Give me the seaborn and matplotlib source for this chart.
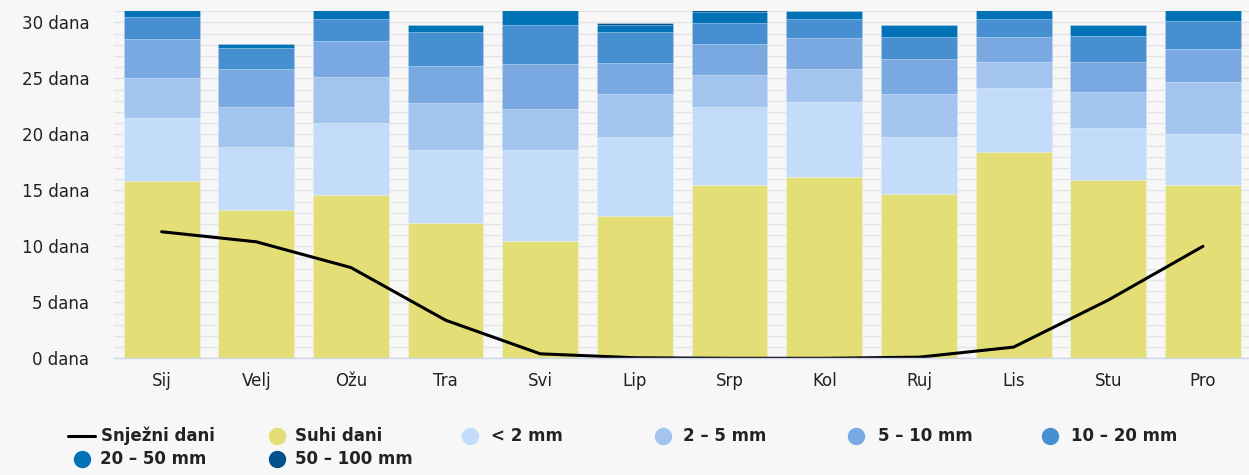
import numpy as np
import pandas as pd
import matplotlib
matplotlib.use("Agg")
import matplotlib.pyplot as plt
from matplotlib.lines import Line2D
import seaborn as sns

# Monthly climate: average days per precipitation class, plus snow days
months = ["Sij", "Velj", "Ožu", "Tra", "Svi", "Lip", "Srp", "Kol", "Ruj", "Lis", "Stu", "Pro"]
dry_days = [15.8, 13.2, 14.6, 12.1, 10.5, 12.7, 15.5, 16.2, 14.7, 18.4, 15.9, 15.5]
prec_lt2 = [5.7, 5.7, 6.4, 6.5, 8.1, 7.1, 6.9, 6.7, 5.1, 5.7, 4.7, 4.5]
prec_2_5 = [3.5, 3.5, 4.1, 4.2, 3.7, 3.8, 2.9, 2.9, 3.8, 2.4, 3.2, 4.7]
prec_5_10 = [3.5, 3.4, 3.2, 3.3, 4.0, 2.8, 2.8, 2.8, 3.1, 2.2, 2.7, 2.9]
prec_10_20 = [2.0, 1.9, 2.0, 3.0, 3.5, 2.7, 1.8, 1.7, 2.0, 1.6, 2.3, 2.5]
prec_20_50 = [0.6, 0.4, 0.8, 0.7, 1.3, 0.7, 1.0, 0.7, 1.1, 0.8, 1.0, 1.0]
prec_50_100 = [0.0, 0.0, 0.0, 0.0, 0.0, 0.1, 0.2, 0.0, 0.0, 0.0, 0.0, 0.0]
snow_days = [11.3, 10.4, 8.1, 3.4, 0.4, 0.05, 0.0, 0.0, 0.1, 1.0, 5.2, 10.0]

series_labels = ["Suhi dani", "< 2 mm", "2 – 5 mm", "5 – 10 mm", "10 – 20 mm",
                 "20 – 50 mm", "50 – 100 mm"]
series_colors = ["#e3df76", "#c3dcfa", "#a2c4ef", "#79a9e0", "#4690d2",
                 "#0072b5", "#00508c"]
snow_label = "Snježni dani"
y_unit = "dana"

stack = [dry_days, prec_lt2, prec_2_5, prec_5_10, prec_10_20, prec_20_50, prec_50_100]
cumulative = np.cumsum(np.array(stack), axis=0)

sns.set_theme(style="white")
plt.rcParams["font.family"] = ["DejaVu Sans"]

W, H = 1249, 475
fig = plt.figure(figsize=(W / 100, H / 100), dpi=100, facecolor="#f7f7f7")
ax = fig.add_axes([114.3 / W, 1 - 358.3 / H, 1136 / W, 347.2 / H])
ax.set_facecolor("#f7f7f7")

# Stacked columns: draw the tallest cumulative layer first, shorter ones on top
for i in range(len(stack) - 1, -1, -1):
    df = pd.DataFrame({"month": months, "value": cumulative[i]})
    sns.barplot(data=df, x="month", y="value", color=series_colors[i],
                saturation=1, width=0.8, ax=ax, zorder=2,
                edgecolor=(1, 1, 1, 0.45), linewidth=0.6)

# Snow days line
snow_df = pd.DataFrame({"pos": np.arange(len(months)), "snow": snow_days})
sns.lineplot(data=snow_df, x="pos", y="snow", color="black", linewidth=2.2,
             ax=ax, zorder=5)

ax.set_xlim(-0.5, len(months) - 0.5)
ax.set_ylim(0, 31)
ax.set_yticks(np.arange(0, 31, 5))
ax.set_yticks(np.arange(0, 32, 1), minor=True)
ax.set_yticklabels([f"{v} {y_unit}" for v in range(0, 31, 5)])
ax.set_xticks(np.arange(len(months)))
ax.set_xticklabels(months)
ax.grid(axis="y", which="both", color="#e4e4e4", linewidth=1.0, zorder=0)
ax.set_axisbelow(True)
ax.tick_params(axis="y", which="both", length=0, pad=18, labelsize=12, labelcolor="#222222")
ax.tick_params(axis="x", length=0, pad=10, labelsize=12, labelcolor="#222222")
ax.set_xlabel("")
ax.set_ylabel("")
for side in ["top", "right", "left"]:
    ax.spines[side].set_visible(False)
ax.spines["bottom"].set_color("#ccd6eb")
ax.spines["bottom"].set_linewidth(1.0)
ax.spines["bottom"].set_zorder(6)


# Legend laid out in fixed-width columns below the plot
def fx(px):
    return px / W


def fy(py):
    return 1 - py / H


legend_font = dict(fontsize=12, fontweight="bold", color="#222222", va="center", ha="left")
row1, row2 = 436, 459
fig.add_artist(Line2D([fx(68), fx(95)], [fy(row1), fy(row1)], color="black",
                      linewidth=2.2, transform=fig.transFigure))
fig.text(fx(101), fy(row1), snow_label, **legend_font)

entries = [(277, 295, row1), (470, 491, row1), (663, 683, row1), (856, 878, row1),
           (1050, 1071, row1), (82, 100, row2), (277, 295, row2)]
for (cx, tx, ry), lab, col in zip(entries, series_labels, series_colors):
    fig.add_artist(Line2D([fx(cx)], [fy(ry)], marker="o", markersize=11.5,
                          markerfacecolor=col, markeredgecolor=col, linestyle="none",
                          transform=fig.transFigure))
    fig.text(fx(tx), fy(ry), lab, **legend_font)

fig.savefig("out.png", dpi=100, facecolor=fig.get_facecolor())
